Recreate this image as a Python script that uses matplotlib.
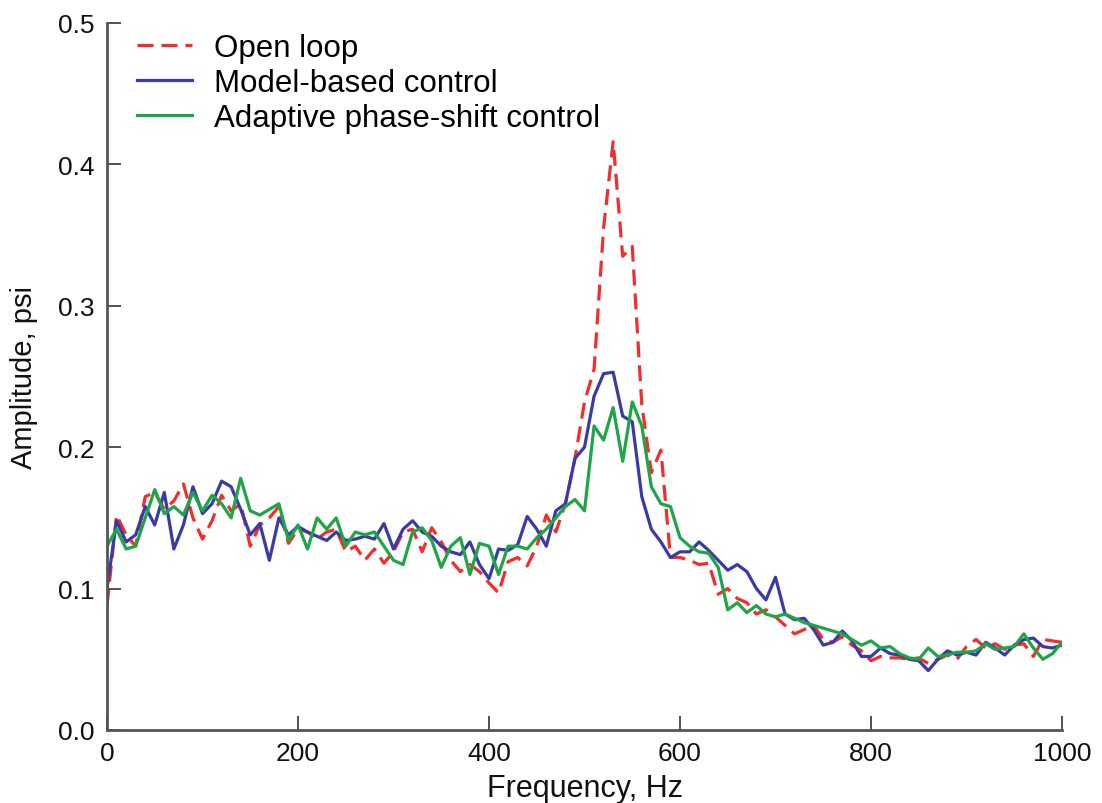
import numpy as np
import matplotlib
matplotlib.use('Agg')
import matplotlib.pyplot as plt

plt.rcParams['font.family'] = ['Liberation Sans', 'DejaVu Sans']

# frequency grid, Hz
freq = np.arange(0, 1001, 10)

open_loop = [
    0.088, 0.152, 0.138, 0.130, 0.165, 0.168, 0.156, 0.162, 0.174, 0.150,
    0.135, 0.148, 0.166, 0.155, 0.160, 0.130, 0.145, 0.150, 0.158, 0.132,
    0.142, 0.140, 0.135, 0.140, 0.142, 0.126, 0.130, 0.120, 0.128, 0.118,
    0.126, 0.140, 0.142, 0.126, 0.143, 0.133, 0.120, 0.112, 0.117, 0.112,
    0.104, 0.097, 0.119, 0.122, 0.116, 0.130, 0.152, 0.140, 0.160, 0.192,
    0.232, 0.255, 0.355, 0.416, 0.335, 0.342, 0.230, 0.182, 0.198, 0.122,
    0.122, 0.120, 0.117, 0.118, 0.096, 0.100, 0.093, 0.090, 0.082, 0.085,
    0.080, 0.074, 0.068, 0.071, 0.074, 0.064, 0.062, 0.066, 0.060, 0.056,
    0.049, 0.052, 0.051, 0.051, 0.050, 0.051, 0.047, 0.050, 0.053, 0.050,
    0.059, 0.064, 0.058, 0.061, 0.057, 0.060, 0.061, 0.052, 0.064, 0.063,
    0.062,
]

model_based = [
    0.100, 0.148, 0.133, 0.138, 0.158, 0.145, 0.168, 0.128, 0.145, 0.172,
    0.153, 0.160, 0.176, 0.172, 0.156, 0.138, 0.146, 0.120, 0.150, 0.138,
    0.144, 0.140, 0.137, 0.134, 0.140, 0.134, 0.135, 0.137, 0.135, 0.146,
    0.128, 0.142, 0.148, 0.140, 0.137, 0.130, 0.126, 0.124, 0.133, 0.117,
    0.107, 0.128, 0.127, 0.131, 0.151, 0.142, 0.130, 0.155, 0.160, 0.192,
    0.200, 0.236, 0.252, 0.253, 0.222, 0.218, 0.165, 0.142, 0.133, 0.122,
    0.126, 0.126, 0.133, 0.127, 0.120, 0.113, 0.117, 0.112, 0.100, 0.092,
    0.108, 0.082, 0.078, 0.079, 0.071, 0.060, 0.062, 0.070, 0.063, 0.052,
    0.052, 0.058, 0.054, 0.053, 0.050, 0.049, 0.042, 0.050, 0.056, 0.053,
    0.055, 0.053, 0.062, 0.058, 0.053, 0.060, 0.064, 0.065, 0.059, 0.058,
    0.060,
]

adaptive = [
    0.130, 0.142, 0.128, 0.130, 0.150, 0.170, 0.153, 0.158, 0.152, 0.168,
    0.155, 0.166, 0.160, 0.150, 0.178, 0.155, 0.152, 0.156, 0.160, 0.134,
    0.145, 0.128, 0.150, 0.142, 0.150, 0.130, 0.140, 0.138, 0.140, 0.130,
    0.120, 0.117, 0.140, 0.143, 0.134, 0.115, 0.130, 0.136, 0.110, 0.132,
    0.130, 0.110, 0.130, 0.130, 0.128, 0.136, 0.142, 0.150, 0.158, 0.163,
    0.155, 0.215, 0.205, 0.228, 0.190, 0.232, 0.215, 0.172, 0.160, 0.158,
    0.136, 0.130, 0.126, 0.125, 0.115, 0.085, 0.090, 0.083, 0.088, 0.082,
    0.080, 0.082, 0.079, 0.076, 0.074, 0.072, 0.070, 0.068, 0.064, 0.060,
    0.063, 0.058, 0.059, 0.054, 0.051, 0.050, 0.058, 0.052, 0.053, 0.055,
    0.055, 0.056, 0.061, 0.057, 0.058, 0.059, 0.068, 0.058, 0.050, 0.054,
    0.062,
]

xticks = [0, 200, 400, 600, 800, 1000]
yticks = [0.0, 0.1, 0.2, 0.3, 0.4, 0.5]

fig = plt.figure(figsize=(11.02, 8.04), dpi=100)
ax = fig.add_axes([0.0971, 0.0908, 0.8666, 0.8794])

ax.plot(freq, open_loop, color='#f42c2c', lw=2.3, ls=(0, (5, 2.5)), label='Open loop')
ax.plot(freq, model_based, color='#3a3aa6', lw=2.3, label='Model-based control')
ax.plot(freq, adaptive, color='#1ea545', lw=2.3, label='Adaptive phase-shift control')

ax.set_xlim(0, 1000)
ax.set_ylim(0, 0.5)
ax.set_xticks(xticks)
ax.set_yticks(yticks)
ax.set_yticklabels(['%.1f' % v for v in yticks])

for s in ['top', 'right']:
    ax.spines[s].set_visible(False)
for s in ['left', 'bottom']:
    ax.spines[s].set_color('#555555')
    ax.spines[s].set_linewidth(2.0)
ax.tick_params(direction='in', length=10, width=1.2, color='#333333',
               labelsize=19, labelcolor='#111111')
ax.tick_params(axis='x', pad=8)
ax.tick_params(axis='y', pad=9)

ax.set_xlabel('Frequency, Hz', fontsize=22, color='#111111', labelpad=6)
ax.set_ylabel('Amplitude, psi', fontsize=21, color='#111111', labelpad=14)

ax.legend(loc='upper left', bbox_to_anchor=(0.002, 1.025), frameon=False,
          fontsize=22.5, handlelength=1.75, handletextpad=0.7, labelspacing=0.15)

fig.savefig('out.png', dpi=100)
